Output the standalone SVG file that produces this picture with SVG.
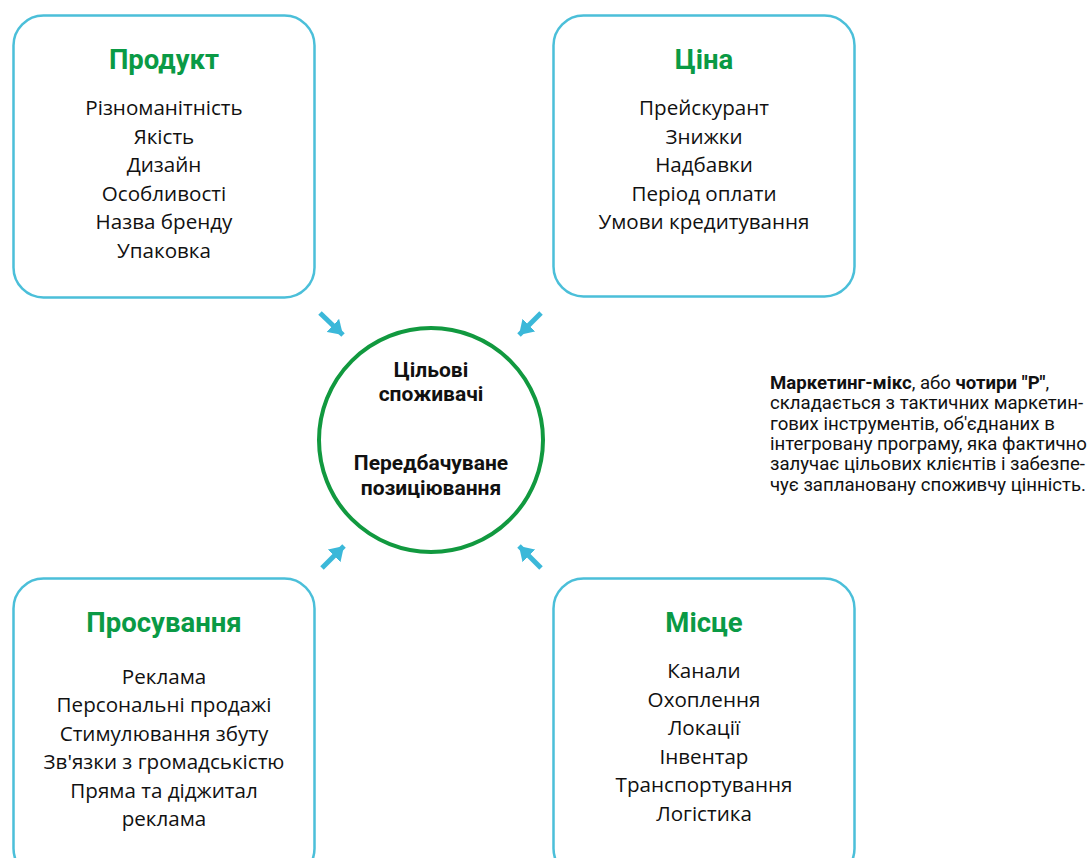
<svg xmlns="http://www.w3.org/2000/svg" width="1090" height="858" viewBox="0 0 1090 858">
<defs>
<style>
.box{fill:#fff;stroke:#4bbfd9;stroke-width:2.5}
.title{font-family:Roboto,"Liberation Sans",sans-serif;font-weight:bold;font-size:27.5px;fill:#0a9a45;text-anchor:middle}
.item{font-family:"Open Sans","Noto Sans","Liberation Sans",sans-serif;font-size:20.6px;fill:#111;text-anchor:middle}
.ctr{font-family:Roboto,"Liberation Sans",sans-serif;font-weight:bold;font-size:21px;fill:#111;text-anchor:middle}
.side{font-family:Roboto,"Liberation Sans",sans-serif;font-size:18.6px;fill:#111}
.arr{stroke:#3bb8d9;stroke-width:5;fill:none;marker-end:url(#ah)}
</style>
<marker id="ah" markerUnits="userSpaceOnUse" viewBox="0 0 14 18" refX="14" refY="9" markerWidth="14" markerHeight="18" orient="auto">
<path d="M0,0 L14,9 L0,18 z" fill="#3bb8d9"/>
</marker>
</defs>
<rect width="1090" height="858" fill="#fff"/>
<g id="product">
<rect class="box" x="13.5" y="15.5" width="301" height="282" rx="30"/>
<text class="title" x="164" y="68.5">Продукт</text>
<text class="item" x="164" y="115">Різноманітність</text>
<text class="item" x="164" y="143.5">Якість</text>
<text class="item" x="164" y="172">Дизайн</text>
<text class="item" x="164" y="200.5">Особливості</text>
<text class="item" x="164" y="229">Назва бренду</text>
<text class="item" x="164" y="257.5">Упаковка</text>
</g>
<g id="price">
<rect class="box" x="553.5" y="15.5" width="301" height="281" rx="30"/>
<text class="title" x="704" y="68.5">Ціна</text>
<text class="item" x="704" y="115">Прейскурант</text>
<text class="item" x="704" y="143.5">Знижки</text>
<text class="item" x="704" y="172">Надбавки</text>
<text class="item" x="704" y="200.5">Період оплати</text>
<text class="item" x="704" y="229">Умови кредитування</text>
</g>
<g id="promotion">
<rect class="box" x="13.5" y="578.5" width="301" height="300" rx="30"/>
<text class="title" x="164" y="632">Просування</text>
<text class="item" x="164" y="683.5">Реклама</text>
<text class="item" x="164" y="712">Персональні продажі</text>
<text class="item" x="164" y="740.5">Стимулювання збуту</text>
<text class="item" x="164" y="769">Зв'язки з громадськістю</text>
<text class="item" x="164" y="797.5">Пряма та діджитал</text>
<text class="item" x="164" y="826">реклама</text>
</g>
<g id="place">
<rect class="box" x="553.5" y="578.5" width="301" height="300" rx="30"/>
<text class="title" x="704" y="632">Місце</text>
<text class="item" x="704" y="678">Канали</text>
<text class="item" x="704" y="706.5">Охоплення</text>
<text class="item" x="704" y="735">Локації</text>
<text class="item" x="704" y="763.5">Інвентар</text>
<text class="item" x="704" y="792">Транспортування</text>
<text class="item" x="704" y="820.5">Логістика</text>
</g>
<g id="target">
<circle cx="431" cy="440" r="112" fill="#fff" stroke="#11993f" stroke-width="4"/>
<text class="ctr" x="431" y="376.5">Цільові</text>
<text class="ctr" x="431" y="401">споживачі</text>
<text class="ctr" x="431" y="470">Передбачуване</text>
<text class="ctr" x="431" y="494.5">позиціювання</text>
</g>
<g id="note">
<text class="side" x="770" y="388.5"><tspan font-weight="bold">Маркетинг-мікс</tspan>, або <tspan font-weight="bold">чотири "Р"</tspan>,</text>
<text class="side" x="770" y="409">складається з тактичних маркетин-</text>
<text class="side" x="770" y="429.5">гових інструментів, об'єднаних в</text>
<text class="side" x="770" y="450">інтегровану програму, яка фактично</text>
<text class="side" x="770" y="470">залучає цільових клієнтів і забезпе-</text>
<text class="side" x="770" y="490.5">чує заплановану споживчу цінність.</text>
</g>
<g id="connectors">
<line class="arr" x1="320" y1="313" x2="343" y2="335"/>
<line class="arr" x1="541" y1="313" x2="519" y2="335"/>
<line class="arr" x1="322" y1="568" x2="344" y2="546"/>
<line class="arr" x1="541" y1="568" x2="519" y2="546"/>
</g>
</svg>
